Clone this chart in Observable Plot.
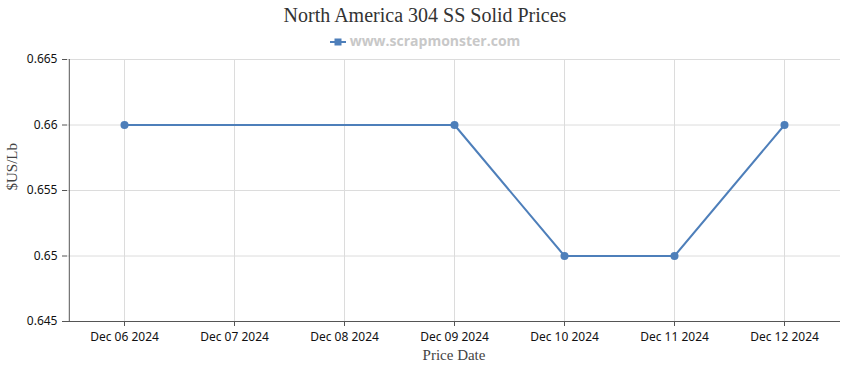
<!DOCTYPE html>
<html>
<head>
<meta charset="utf-8">
<script src="https://cdn.jsdelivr.net/npm/d3@7"></script>
<script src="https://cdn.jsdelivr.net/npm/@observablehq/plot@0.6"></script>
<style>
  body { margin: 0; background: #fff; width: 850px; height: 370px; overflow: hidden; }
  #title { position: absolute; top: 4px; left: 0; width: 850px; text-align: center;
    font-family: "Liberation Serif", serif; font-size: 20px; color: #333; }
  #legend { position: absolute; top: 31px; left: 0; width: 850px; text-align: center;
    font-family: "Open Sans", "DejaVu Sans", sans-serif; font-size: 14px; font-weight: bold; color: #c8c8c8; }
  #legend svg { vertical-align: -1px; margin-right: 4px; }
  #chart { position: absolute; top: 50px; left: 0; }
</style>
</head>
<body>
<div id="title"></div>
<div id="legend"></div>
<div id="chart"></div>
<script>
const titleText = "North America 304 SS Solid Prices";
const seriesName = "www.scrapmonster.com";
const dates = ["Dec 06 2024", "Dec 07 2024", "Dec 08 2024", "Dec 09 2024", "Dec 10 2024", "Dec 11 2024", "Dec 12 2024"];
const priceDates = ["Dec 06 2024", "Dec 09 2024", "Dec 10 2024", "Dec 11 2024", "Dec 12 2024"];
const prices = [0.66, 0.66, 0.65, 0.65, 0.66];
const yTicks = [0.645, 0.65, 0.655, 0.66, 0.665];
const yLabel = "$US/Lb";
const xLabel = "Price Date";
const color = "#4e7fba";

document.getElementById("title").textContent = titleText;
const leg = document.getElementById("legend");
leg.innerHTML = `<svg width="16" height="10"><line x1="0" x2="16" y1="5" y2="5" stroke="${color}" stroke-width="2"/><rect x="4.5" y="1.5" width="7" height="7" fill="${color}"/></svg>`;
leg.appendChild(document.createTextNode(seriesName));

const data = priceDates.map((d, i) => ({date: d, price: prices[i]}));

const chart = Plot.plot({
  width: 850,
  height: 320,
  marginLeft: 67,
  marginRight: 10,
  marginTop: 9,
  marginBottom: 49,
  style: {fontFamily: "'Noto Sans', 'DejaVu Sans', sans-serif", fontSize: "12px", color: "#111", background: "#fff"},
  x: {type: "point", domain: dates, padding: 0.5, label: null},
  y: {domain: [0.645, 0.665], label: null},
  marks: [
    Plot.gridX(dates, {stroke: "#dcdcdc", strokeOpacity: 1}),
    Plot.gridY(yTicks, {stroke: "#dcdcdc", strokeOpacity: 1}),
    Plot.axisX({ticks: dates, tickSize: 5, tickPadding: 6, stroke: "#555", fontSize: 12, fill: "#111"}),
    Plot.axisY({ticks: yTicks, tickSize: 5, tickPadding: 5, stroke: "#555", fontSize: 12, fill: "#111",
      tickFormat: d => String(+d.toFixed(3))}),
    Plot.ruleX([dates[0]], {stroke: "#555", dx: -55.2}),
    Plot.ruleY([0.645], {stroke: "#555"}),
    Plot.text([xLabel], {frameAnchor: "bottom", dy: 38, fontFamily: "'Liberation Serif', serif", fontSize: 15, fill: "#444"}),
    Plot.text([yLabel], {frameAnchor: "left", dx: -55, rotate: -90, fontFamily: "'Liberation Serif', serif", fontSize: 15, fill: "#444"}),
    Plot.line(data, {x: "date", y: "price", stroke: color, strokeWidth: 2}),
    Plot.dot(data, {x: "date", y: "price", fill: color, r: 4})
  ]
});
document.getElementById("chart").appendChild(chart);
</script>
</body>
</html>
